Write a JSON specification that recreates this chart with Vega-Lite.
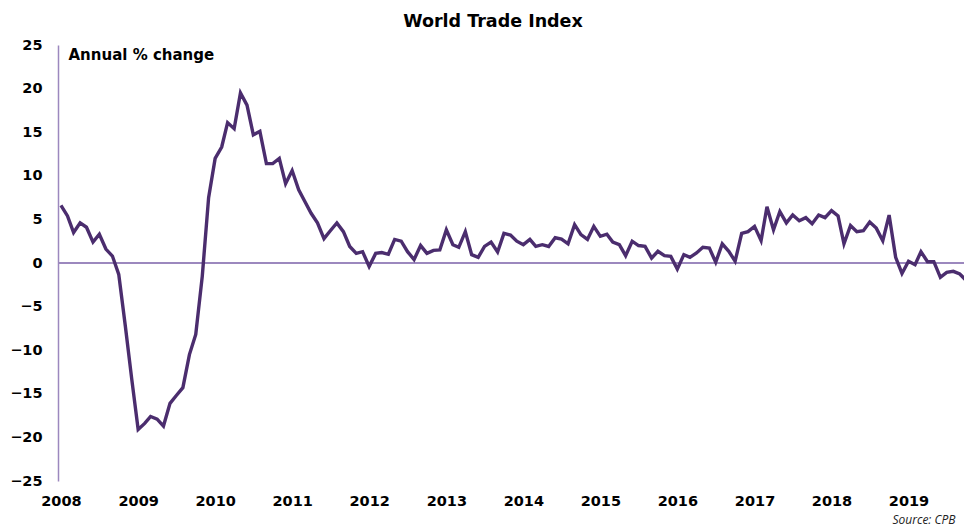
{
  "$schema": "https://vega.github.io/schema/vega-lite/v6.json",
  "autosize": {"type": "none"},
  "padding": {"left": 58, "top": 45, "right": 0, "bottom": 47},
  "width": 906,
  "height": 436,
  "background": "white",
  "config": {
    "view": {"stroke": null},
    "font": "DejaVu Sans"
  },
  "title": {
    "text": "World Trade Index",
    "font": "DejaVu Sans",
    "fontSize": 17.5,
    "fontWeight": "bold",
    "color": "#000000",
    "anchor": "middle",
    "frame": "group",
    "dx": -18,
    "dy": 26,
    "baseline": "alphabetic",
    "offset": 19
  },
  "data": {
    "values": [
      {"date": "2008-01-01", "value": 6.6},
      {"date": "2008-02-01", "value": 5.4},
      {"date": "2008-03-01", "value": 3.5},
      {"date": "2008-04-01", "value": 4.6},
      {"date": "2008-05-01", "value": 4.1},
      {"date": "2008-06-01", "value": 2.4},
      {"date": "2008-07-01", "value": 3.3},
      {"date": "2008-08-01", "value": 1.6},
      {"date": "2008-09-01", "value": 0.8},
      {"date": "2008-10-01", "value": -1.3},
      {"date": "2008-11-01", "value": -7.2},
      {"date": "2008-12-01", "value": -13.2},
      {"date": "2009-01-01", "value": -19.1},
      {"date": "2009-02-01", "value": -18.4},
      {"date": "2009-03-01", "value": -17.6},
      {"date": "2009-04-01", "value": -17.9},
      {"date": "2009-05-01", "value": -18.7},
      {"date": "2009-06-01", "value": -16.1},
      {"date": "2009-07-01", "value": -15.2},
      {"date": "2009-08-01", "value": -14.3},
      {"date": "2009-09-01", "value": -10.5},
      {"date": "2009-10-01", "value": -8.2},
      {"date": "2009-11-01", "value": -1.5},
      {"date": "2009-12-01", "value": 7.5},
      {"date": "2010-01-01", "value": 12.0},
      {"date": "2010-02-01", "value": 13.3},
      {"date": "2010-03-01", "value": 16.1},
      {"date": "2010-04-01", "value": 15.4},
      {"date": "2010-05-01", "value": 19.5},
      {"date": "2010-06-01", "value": 18.1},
      {"date": "2010-07-01", "value": 14.7},
      {"date": "2010-08-01", "value": 15.1},
      {"date": "2010-09-01", "value": 11.4},
      {"date": "2010-10-01", "value": 11.4},
      {"date": "2010-11-01", "value": 12.0},
      {"date": "2010-12-01", "value": 9.1},
      {"date": "2011-01-01", "value": 10.6},
      {"date": "2011-02-01", "value": 8.4},
      {"date": "2011-03-01", "value": 7.1},
      {"date": "2011-04-01", "value": 5.7},
      {"date": "2011-05-01", "value": 4.6},
      {"date": "2011-06-01", "value": 2.8},
      {"date": "2011-07-01", "value": 3.7},
      {"date": "2011-08-01", "value": 4.6},
      {"date": "2011-09-01", "value": 3.6},
      {"date": "2011-10-01", "value": 1.9},
      {"date": "2011-11-01", "value": 1.1},
      {"date": "2011-12-01", "value": 1.3},
      {"date": "2012-01-01", "value": -0.4},
      {"date": "2012-02-01", "value": 1.1},
      {"date": "2012-03-01", "value": 1.2},
      {"date": "2012-04-01", "value": 1.0},
      {"date": "2012-05-01", "value": 2.7},
      {"date": "2012-06-01", "value": 2.5},
      {"date": "2012-07-01", "value": 1.3},
      {"date": "2012-08-01", "value": 0.4},
      {"date": "2012-09-01", "value": 2.0},
      {"date": "2012-10-01", "value": 1.1},
      {"date": "2012-11-01", "value": 1.45},
      {"date": "2012-12-01", "value": 1.5},
      {"date": "2013-01-01", "value": 3.8},
      {"date": "2013-02-01", "value": 2.1},
      {"date": "2013-03-01", "value": 1.8},
      {"date": "2013-04-01", "value": 3.6},
      {"date": "2013-05-01", "value": 0.96},
      {"date": "2013-06-01", "value": 0.65},
      {"date": "2013-07-01", "value": 1.9},
      {"date": "2013-08-01", "value": 2.4},
      {"date": "2013-09-01", "value": 1.26},
      {"date": "2013-10-01", "value": 3.4},
      {"date": "2013-11-01", "value": 3.2},
      {"date": "2013-12-01", "value": 2.5},
      {"date": "2014-01-01", "value": 2.1},
      {"date": "2014-02-01", "value": 2.7},
      {"date": "2014-03-01", "value": 1.9},
      {"date": "2014-04-01", "value": 2.1},
      {"date": "2014-05-01", "value": 1.9},
      {"date": "2014-06-01", "value": 2.9},
      {"date": "2014-07-01", "value": 2.75},
      {"date": "2014-08-01", "value": 2.2},
      {"date": "2014-09-01", "value": 4.4},
      {"date": "2014-10-01", "value": 3.25},
      {"date": "2014-11-01", "value": 2.7},
      {"date": "2014-12-01", "value": 4.2},
      {"date": "2015-01-01", "value": 3.06},
      {"date": "2015-02-01", "value": 3.3},
      {"date": "2015-03-01", "value": 2.4},
      {"date": "2015-04-01", "value": 2.1},
      {"date": "2015-05-01", "value": 0.84},
      {"date": "2015-06-01", "value": 2.5},
      {"date": "2015-07-01", "value": 2.0},
      {"date": "2015-08-01", "value": 1.9},
      {"date": "2015-09-01", "value": 0.57},
      {"date": "2015-10-01", "value": 1.34},
      {"date": "2015-11-01", "value": 0.84},
      {"date": "2015-12-01", "value": 0.76},
      {"date": "2016-01-01", "value": -0.7},
      {"date": "2016-02-01", "value": 0.96},
      {"date": "2016-03-01", "value": 0.65},
      {"date": "2016-04-01", "value": 1.15},
      {"date": "2016-05-01", "value": 1.8},
      {"date": "2016-06-01", "value": 1.7},
      {"date": "2016-07-01", "value": 0.08},
      {"date": "2016-08-01", "value": 2.2},
      {"date": "2016-09-01", "value": 1.34},
      {"date": "2016-10-01", "value": 0.2},
      {"date": "2016-11-01", "value": 3.4},
      {"date": "2016-12-01", "value": 3.6},
      {"date": "2017-01-01", "value": 4.2},
      {"date": "2017-02-01", "value": 2.56},
      {"date": "2017-03-01", "value": 6.46},
      {"date": "2017-04-01", "value": 3.8},
      {"date": "2017-05-01", "value": 5.9},
      {"date": "2017-06-01", "value": 4.6},
      {"date": "2017-07-01", "value": 5.5},
      {"date": "2017-08-01", "value": 4.85},
      {"date": "2017-09-01", "value": 5.2},
      {"date": "2017-10-01", "value": 4.5},
      {"date": "2017-11-01", "value": 5.5},
      {"date": "2017-12-01", "value": 5.2},
      {"date": "2018-01-01", "value": 6.0},
      {"date": "2018-02-01", "value": 5.4},
      {"date": "2018-03-01", "value": 2.2},
      {"date": "2018-04-01", "value": 4.3},
      {"date": "2018-05-01", "value": 3.6},
      {"date": "2018-06-01", "value": 3.7},
      {"date": "2018-07-01", "value": 4.7},
      {"date": "2018-08-01", "value": 4.0},
      {"date": "2018-09-01", "value": 2.56},
      {"date": "2018-10-01", "value": 5.5},
      {"date": "2018-11-01", "value": 0.65},
      {"date": "2018-12-01", "value": -1.2},
      {"date": "2019-01-01", "value": 0.2},
      {"date": "2019-02-01", "value": -0.2},
      {"date": "2019-03-01", "value": 1.3},
      {"date": "2019-04-01", "value": 0.15},
      {"date": "2019-05-01", "value": 0.15},
      {"date": "2019-06-01", "value": -1.64},
      {"date": "2019-07-01", "value": -1.07},
      {"date": "2019-08-01", "value": -0.96},
      {"date": "2019-09-01", "value": -1.26},
      {"date": "2019-10-01", "value": -2.0}
    ]
  },
  "layer": [
    {
      "mark": {"type": "rule", "color": "#9c88be", "strokeWidth": 1.5},
      "encoding": {"y": {"datum": 0, "type": "quantitative"}}
    },
    {
      "mark": {"type": "line", "color": "#4b2d6e", "strokeWidth": 3.4, "clip": true, "strokeJoin": "miter"},
      "encoding": {
        "x": {
          "field": "date",
          "type": "temporal",
          "scale": {
            "type": "utc",
            "domain": [
              {"year": 2007, "month": 12, "date": 18, "utc": true},
              {"year": 2019, "month": 9, "date": 21, "utc": true}
            ]
          },
          "axis": {
            "title": "Source: CPB",
            "titleFont": "Open Sans",
            "titleFontStyle": "italic",
            "titleFontWeight": "normal",
            "titleFontSize": 12,
            "titleColor": "#222222",
            "titleAlign": "left",
            "titleAnchor": "start",
            "titleBaseline": "alphabetic",
            "titleX": 834,
            "titleY": 42,
            "tickCount": {"interval": "year", "step": 1},
            "format": "%Y",
            "domain": false,
            "ticks": false,
            "tickSize": 0,
            "grid": false,
            "labelFont": "DejaVu Sans",
            "labelFontSize": 14.5,
            "labelFontWeight": "bold",
            "labelColor": "#000000",
            "labelPadding": 13,
            "labelAlign": "center",
            "labelOverlap": false,
            "labelFlush": false
          }
        },
        "y": {
          "field": "value",
          "type": "quantitative",
          "scale": {"domain": [-25, 25], "nice": false, "zero": false},
          "axis": {
            "title": "Annual % change",
            "titleFont": "DejaVu Sans",
            "titleFontSize": 15,
            "titleFontWeight": "bold",
            "titleColor": "#000000",
            "titleAngle": 0,
            "titleAlign": "left",
            "titleAnchor": "start",
            "titleBaseline": "alphabetic",
            "titleX": 10,
            "titleY": 14,
            "values": [-25, -20, -15, -10, -5, 0, 5, 10, 15, 20, 25],
            "domain": true,
            "domainColor": "#9c88be",
            "domainWidth": 1.5,
            "ticks": false,
            "tickSize": 0,
            "grid": false,
            "labelFont": "DejaVu Sans",
            "labelFontSize": 14.5,
            "labelFontWeight": "bold",
            "labelColor": "#000000",
            "labelPadding": 16,
            "labelOverlap": false
          }
        }
      }
    }
  ]
}
